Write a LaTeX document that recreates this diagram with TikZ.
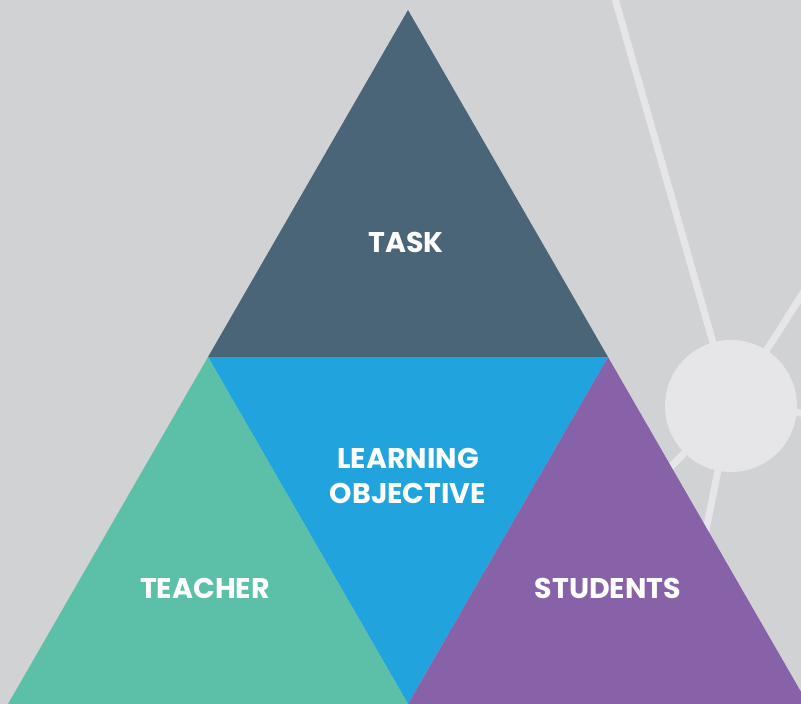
\documentclass[tikz,border=0pt]{standalone}
\usepackage{fontspec}
\setmainfont{Poppins}
\usepackage{tikz}
\definecolor{bgGrey}{HTML}{D1D2D4}
\definecolor{netGrey}{HTML}{E6E6E8}
\definecolor{taskBlue}{HTML}{4A6478}
\definecolor{goalBlue}{HTML}{21A4DD}
\definecolor{teachGreen}{HTML}{5BC0A7}
\definecolor{studPurple}{HTML}{8862A8}
\tikzset{
  x=1pt, y=-1pt,
  part/.style={draw=none},
  word/.style={text=white, font=\bfseries\fontsize{28.5}{35}\selectfont, align=center, inner sep=0pt},
  net/.style={netGrey, line width=7pt},
}

\begin{document}
\begin{tikzpicture}
\fill[bgGrey] (0,0) rectangle (801,704);
\useasboundingbox (0,0) rectangle (801,704);
% the network in the back
\coordinate (hub) at (731,406);
\foreach \p in {(614,-5),(810,282),(810,414),(640,498),(700,560)}
{
  \draw[net] (hub) -- \p;
}
\fill[netGrey] (hub) circle (66);
% the corners
\coordinate (top) at (408,10);
\coordinate (midL) at (208,357);
\coordinate (midR) at (608,357);
\coordinate (botL) at (8,704);
\coordinate (botM) at (408,704);
\coordinate (botR) at (808,704);
% the four triangles
\fill[part,taskBlue] (top) -- (midL) -- (midR) -- cycle;
\fill[part,goalBlue] (midL) -- (midR) -- (botM) -- cycle;
\fill[part,teachGreen] (midL) -- (botL) -- (botM) -- cycle;
\fill[part,studPurple] (midR) -- (botM) -- (botR) -- cycle;
% the labels
\node[word] (task) at (406,242) {TASK};
\node[word] (goal) at (408,476) {LEARNING\\OBJECTIVE};
\node[word] (teacher) at (205,588) {TEACHER};
\node[word] (students) at (608,588) {STUDENTS};
\end{tikzpicture}
\end{document}
